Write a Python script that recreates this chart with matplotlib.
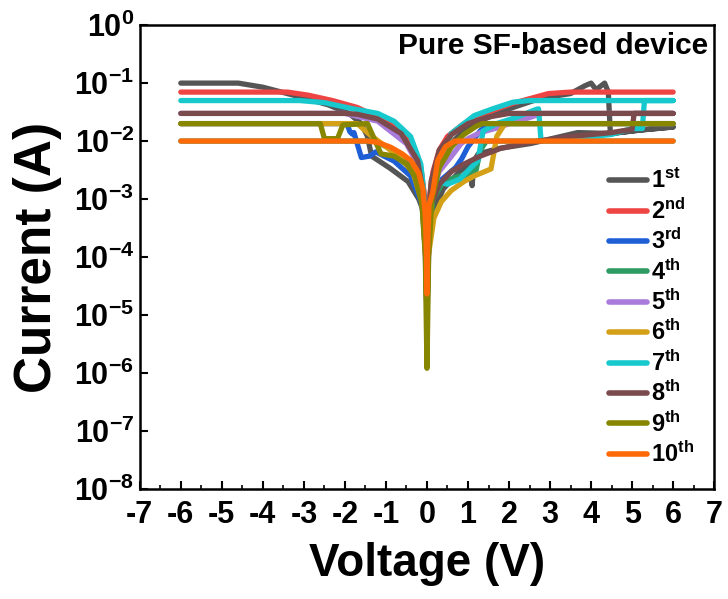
import numpy as np
import matplotlib
matplotlib.use('Agg')
import matplotlib.pyplot as plt

plt.rcParams['font.family'] = ['Liberation Sans', 'DejaVu Sans']
plt.rcParams['font.weight'] = 'bold'
plt.rcParams['mathtext.fontset'] = 'custom'
plt.rcParams['mathtext.rm'] = 'Liberation Sans:bold'
plt.rcParams['mathtext.bf'] = 'Liberation Sans:bold'
plt.rcParams['mathtext.it'] = 'Liberation Sans:bold'
plt.rcParams['mathtext.default'] = 'bf'
plt.rcParams['axes.unicode_minus'] = False

# данные: циклы I-V (напряжение, ток), порядок точек = порядок развертки
labels = [r'1$^{st}$', r'2$^{nd}$', r'3$^{rd}$', r'4$^{th}$', r'5$^{th}$',
          r'6$^{th}$', r'7$^{th}$', r'8$^{th}$', r'9$^{th}$', r'10$^{th}$']
colors = ['#555555', '#EE4444', '#1F5FD6', '#2E9B62', '#A97BDA',
          '#D4A017', '#17C8CC', '#7A4A4C', '#868600', '#FF6A08']

v1 = [-6, -4.6, -4.0, -3.1, -2.4, -1.9, -1.6, -1.45, -1.35, -0.9, -0.46, -0.2, -0.1, -0.04, 0,
      0.03, 0.1, 0.25, 0.5, 0.9, 1.4, 2.0, 2.6, 3.0, 3.5, 3.85, 4.0, 4.13, 4.2, 4.33, 4.42, 4.47, 5.2, 6,
      5.2, 4.5, 3.67, 2.54, 1.73, 1.25, 1.15, 1.1, 1.05, 0.8, 0.4, 0.1, 0.03, 0]
i1 = [0.1, 0.1, 0.085, 0.058, 0.042, 0.03, 0.02, 0.012, 0.0055, 0.0034, 0.002, 1e-3, 6.5e-4, 1.5e-4, 1e-5,
      3e-4, 1.5e-3, 4e-3, 8e-3, 0.015, 0.024, 0.036, 0.05, 0.058, 0.066, 0.09, 0.1, 0.076, 0.085, 0.1, 0.07, 0.0135, 0.0155, 0.0175,
      0.0155, 0.0135, 0.014, 0.0091, 0.0074, 0.006, 0.0046, 0.0017, 0.004, 0.003, 1.5e-3, 5e-4, 1e-4, 1e-5]

v2 = [-6, -3.4, -2.9, -2.3, -1.7, -1.3, -0.88, -0.6, -0.32, -0.15, -0.07, -0.03, 0,
      0.03, 0.07, 0.15, 0.3, 0.5, 0.9, 1.4, 2.1, 2.96, 3.5, 3.8, 6]
i2 = [0.07, 0.07, 0.062, 0.05, 0.038, 0.028, 0.02, 0.014, 7.8e-3, 3.5e-3, 1.3e-3, 3e-4, 1e-5,
      3e-4, 1.2e-3, 3e-3, 7e-3, 0.012, 0.02, 0.03, 0.045, 0.066, 0.07, 0.07, 0.07]

v3 = [-6, -1.95, -1.88, -1.82, -1.78, -1.6, -1.4, -1.25, -0.8, -0.4, -0.12, -0.03, 0,
      0.03, 0.1, 0.3, 0.7, 0.85, 1.0, 1.3, 1.5, 6]
i3 = [0.02, 0.02, 0.0145, 0.0132, 0.014, 0.0052, 0.0055, 0.0065, 4.5e-3, 2.5e-3, 8e-4, 1e-4, 1e-5,
      1e-4, 8e-4, 2e-3, 3.5e-3, 5e-3, 8e-3, 0.015, 0.02, 0.02]

v4 = [-6, -1.3, -0.8, -0.4, -0.15, -0.04, 0,
      0.04, 0.15, 0.4, 0.65, 0.8, 0.95, 1.1, 1.2, 1.3, 1.45, 6]
i4 = [0.01, 0.01, 7e-3, 4e-3, 1.5e-3, 2e-4, 1e-5,
      2e-4, 1e-3, 2e-3, 2.3e-3, 2.5e-3, 2.2e-3, 2.8e-3, 3.2e-3, 7e-3, 0.01, 0.01]

v5 = [-6, -2.0, -1.2, -0.5, -0.23, -0.08, 0,
      0.08, 0.3, 0.6, 0.83, 1.0, 1.3, 1.73, 2.0, 2.3, 2.54, 2.8, 6]
i5 = [0.03, 0.03, 0.022, 9e-3, 4e-3, 1e-3, 1e-5,
      1e-3, 3e-3, 5.5e-3, 9e-3, 0.011, 0.014, 0.017, 0.02, 0.023, 0.026, 0.03, 0.03]

v6 = [-6, -1.7, -1.4, -1.1, -0.7, -0.35, -0.12, -0.03, 0,
      0.03, 0.17, 0.35, 0.59, 0.9, 1.15, 1.56, 1.64, 1.7, 1.9, 6]
i6 = [0.02, 0.02, 0.013, 0.009, 5.5e-3, 3e-3, 9e-4, 1e-4, 1e-5,
      1e-4, 4.7e-4, 9e-4, 1.4e-3, 2e-3, 2.5e-3, 3.3e-3, 6.8e-3, 0.012, 0.02, 0.02]

v7 = [-6, -3.1, -2.5, -1.8, -1.2, -0.8, -0.4, -0.15, -0.06, -0.02, 0,
      0.02, 0.1, 0.3, 0.5, 0.8, 1.24, 1.37, 1.7, 2.2, 2.65, 2.72, 2.78, 3.5, 4.5, 5.0, 5.25, 5.3, 6,
      2.5, 2.1, 1.6, 1.15, 0.59, 0.26, 0.1, 0.03, 0]
i7 = [0.05, 0.05, 0.046, 0.036, 0.03, 0.022, 0.012, 4e-3, 1e-3, 1e-4, 1e-5,
      2e-4, 1.2e-3, 2e-3, 1.8e-3, 2.2e-3, 4.6e-3, 0.015, 0.02, 0.026, 0.035, 0.036, 0.0102, 0.011, 0.013, 0.0165, 0.0165, 0.05, 0.05,
      0.05, 0.047, 0.036, 0.0275, 0.0135, 3e-3, 1e-3, 2e-4, 1e-5]

v8 = [-6, -2.0, -1.7, -1.2, -0.63, -0.23, -0.08, -0.03, 0,
      0.03, 0.1, 0.3, 0.6, 0.9, 1.3, 1.8, 2.5, 3.5, 4.5, 5.0, 5.05, 6,
      2.0, 1.5, 1.0, 0.6, 0.3, 0.1, 0.03, 0]
i8 = [0.03, 0.03, 0.029, 0.024, 0.0135, 4.6e-3, 1.2e-3, 2e-4, 8e-6,
      2e-4, 8e-4, 1.8e-3, 3e-3, 4e-3, 5.5e-3, 7.5e-3, 9.5e-3, 0.012, 0.014, 0.016, 0.03, 0.03,
      0.03, 0.026, 0.02, 0.013, 7e-3, 2e-3, 3e-4, 8e-6]

v9 = [-6, -2.6, -2.5, -2.18, -2.05, -1.45, -1.3, -1.12, -0.8, -0.5, -0.3, -0.12, -0.04, 0,
      0.04, 0.12, 0.3, 0.6, 0.9, 1.2, 1.35, 6]
i9 = [0.02, 0.02, 0.011, 0.011, 0.019, 0.02, 0.0115, 0.006, 0.0055, 4e-3, 2.5e-3, 8e-4, 1e-4, 1.2e-6,
      1e-4, 1e-3, 3.5e-3, 8e-3, 0.013, 0.018, 0.02, 0.02]

v10 = [-6, -1.45, -1.2, -0.88, -0.6, -0.39, -0.2, -0.1, -0.04, -0.01, 0,
       0.01, 0.05, 0.14, 0.26, 0.45, 0.67, 6]
i10 = [0.01, 0.01, 0.0095, 0.0078, 6e-3, 4.6e-3, 2.8e-3, 1.5e-3, 5e-4, 1e-4, 2.3e-5,
       1e-4, 8e-4, 1.3e-3, 4.6e-3, 8e-3, 0.01, 0.01]

volts = [v1, v2, v3, v4, v5, v6, v7, v8, v9, v10]
currents = [i1, i2, i3, i4, i5, i6, i7, i8, i9, i10]

yticks = [1e-8, 1e-7, 1e-6, 1e-5, 1e-4, 1e-3, 1e-2, 1e-1, 1e0]
ytick_labels = [r'10$^{-8}$', r'10$^{-7}$', r'10$^{-6}$', r'10$^{-5}$', r'10$^{-4}$',
                r'10$^{-3}$', r'10$^{-2}$', r'10$^{-1}$', r'10$^{0}$']
xticks = list(range(-7, 8))

fig = plt.figure(figsize=(7.28, 5.99), dpi=100)
ax = fig.add_axes([0.192, 0.184, 0.789, 0.774])

for v, cur, c, lab in zip(volts, currents, colors, labels):
    ax.plot(v, cur, color=c, lw=3.8, label=lab, solid_capstyle='round', solid_joinstyle='round')

ax.set_yscale('log')
ax.set_ylim(1e-8, 1e0)
ax.set_xlim(-7, 7)
ax.set_xticks(xticks)
ax.set_xticks(np.arange(-6.5, 7, 1), minor=True)
ax.set_yticks(yticks)
ax.set_yticklabels(ytick_labels)

ax.tick_params(axis='both', which='both', direction='in', top=False, right=False)
ax.tick_params(axis='both', which='major', length=6, width=1.5, labelsize=22)
ax.tick_params(axis='x', which='major', pad=8)
ax.tick_params(axis='y', which='major', pad=4)
ax.tick_params(axis='both', which='minor', length=3, width=1.2)
for s in ax.spines.values():
    s.set_linewidth(1.8)

ax.set_xlabel('Voltage (V)', fontsize=33, fontweight='bold', labelpad=9)
ax.set_ylabel('Current (A)', fontsize=37, fontweight='bold')
ax.yaxis.set_label_coords(-0.135, 0.5)

ax.text(0.99, 0.955, 'Pure SF-based device', transform=ax.transAxes, ha='right', va='center',
        fontsize=21.5, fontweight='bold')

leg = ax.legend(loc='upper left', bbox_to_anchor=(0.80, 0.71), frameon=False, fontsize=17,
                handlelength=1.6, handletextpad=0.2, labelspacing=0.2, borderaxespad=0)
for h in leg.get_lines():
    h.set_linewidth(4)

fig.savefig('out.png', dpi=100)
